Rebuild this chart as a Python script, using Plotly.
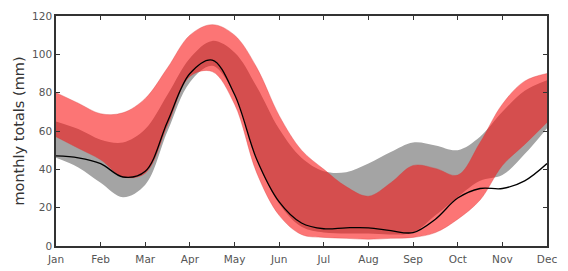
import plotly.graph_objects as go

# month positions (index 0 = Jan ... 11 = Dec), sampled at half-month steps
x_pos = [0, 0.5, 1, 1.5, 2, 2.5, 3, 3.5, 4, 4.5, 5, 5.5, 6, 6.5, 7, 7.5, 8, 8.5, 9, 9.5, 10, 10.5, 11]
month_labels = ["Jan", "Feb", "Mar", "Apr", "May", "Jun", "Jul", "Aug", "Sep", "Oct", "Nov", "Dec"]
month_ticks = list(range(12))

# grey band (reference range)
grey_upper = [65, 61, 55.5, 54, 61, 79, 98, 107, 101, 83, 61, 46, 39, 38.5, 43, 49, 54, 52.5, 50, 57, 70, 81, 86.5]
grey_lower = [46, 41, 33, 25.5, 32, 60, 85.5, 94, 79, 45, 22, 10, 7, 6.5, 6.5, 6, 7, 16, 25.5, 34, 37, 48, 61.5]

# red band (projection range)
red_upper = [80, 74.5, 69, 69.5, 77, 93, 110, 115.5, 110, 93, 68, 50, 40, 31, 26, 33, 42, 40.5, 37, 54, 74, 86, 90]
red_lower = [57, 51, 45, 36, 38, 63, 88.5, 91, 74, 38, 16, 6, 4.5, 4, 3.5, 4, 4.5, 7, 14, 24, 42, 53, 64.5]

# observed monthly totals (black line)
observed = [47, 46, 43, 36, 39, 65, 90, 97, 79, 45, 23, 12, 9, 9.5, 9.5, 8, 7, 14, 25, 30, 30, 34, 43]

fig = go.Figure()
fig.add_trace(go.Scatter(x=x_pos, y=grey_upper, mode="lines", line=dict(width=0, shape="spline"),
                         hoverinfo="skip", showlegend=False))
fig.add_trace(go.Scatter(x=x_pos, y=grey_lower, mode="lines", line=dict(width=0, shape="spline"),
                         fill="tonexty", fillcolor="#a4a4a4", hoverinfo="skip", showlegend=False))
fig.add_trace(go.Scatter(x=x_pos, y=red_upper, mode="lines",
                         line=dict(width=0.8, shape="spline", color="rgba(215,60,60,0.45)"),
                         hoverinfo="skip", showlegend=False))
fig.add_trace(go.Scatter(x=x_pos, y=red_lower, mode="lines",
                         line=dict(width=0.8, shape="spline", color="rgba(215,60,60,0.45)"),
                         fill="tonexty", fillcolor="rgba(250,12,12,0.57)", hoverinfo="skip", showlegend=False))
fig.add_trace(go.Scatter(x=x_pos, y=observed, mode="lines", line=dict(color="black", width=1.3, shape="spline"),
                         showlegend=False))

axis_font = dict(family="DejaVu Sans", size=10.5, color="#555555")
fig.update_layout(
    width=560, height=263,
    margin=dict(l=48, r=21, t=8, b=25),
    paper_bgcolor="white", plot_bgcolor="white",
    xaxis=dict(range=[0, 11], tickvals=month_ticks, ticktext=month_labels, ticks="inside", ticklen=4,
               tickcolor="#333", showline=True, linecolor="#333", linewidth=1.5, mirror="ticks",
               showgrid=False, zeroline=False, tickfont=axis_font, automargin=False,
               ticklabelstandoff=3),
    yaxis=dict(range=[0, 120], dtick=20, ticks="inside", ticklen=4, tickcolor="#333",
               showline=True, linecolor="#333", linewidth=1.5, mirror="ticks", showgrid=False,
               zeroline=False, tickfont=axis_font, automargin=False,
               title=dict(text="monthly totals (mm)", font=dict(family="DejaVu Sans", size=14.5, color="#333"),
                          standoff=4)),
)

fig.write_html("out.html")
